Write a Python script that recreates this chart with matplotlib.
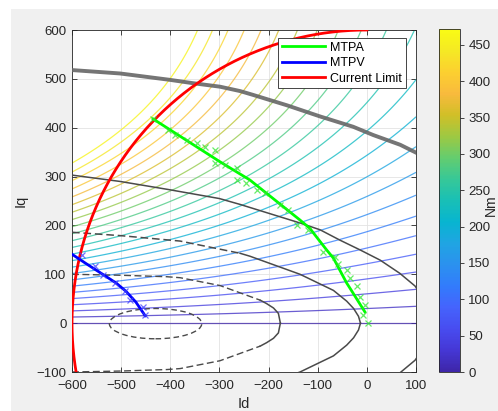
import numpy as np
import matplotlib
matplotlib.use('Agg')
import matplotlib.pyplot as plt
from matplotlib.colors import LinearSegmentedColormap, Normalize
from matplotlib.patches import Ellipse, Rectangle
from matplotlib.cm import ScalarMappable

plt.rcParams['font.family'] = ['Liberation Sans', 'DejaVu Sans']

# ---------------- data ----------------
# MTPA trajectory (line) and its computed points (x markers)
mtpa_id = [-435, -300, -238, -187, -136, -116, -82, -68, -41, -34, -4]
mtpa_iq = [418, 331, 293, 252, 211, 194, 150, 133, 82, 71, 23]
mtpa_pts_id = [-435, -404, -390, -367, -346, -329, -309, -309, -289, -265, -265, -245,
               -224, -207, -177, -160, -143, -119, -89, -65, -58, -41, -34, -21, -14, -4, -7, 2]
mtpa_pts_iq = [417, 395, 385, 375, 368, 361, 354, 328, 324, 317, 293, 286,
               273, 266, 242, 232, 201, 191, 146, 136, 122, 109, 92, 75, 54, 37, 17, 0]
# MTPV trajectory and points
mtpv_id = [-600, -570, -536, -510, -490, -470, -451]
mtpv_iq = [141, 121, 99, 82, 65, 43, 15]
mtpv_pts_id = [-580, -553, -536, -512, -492, -482, -455, -451]
mtpv_pts_iq = [140, 117, 98, 83, 66, 48, 34, 16]
# current limit radius
i_max = 600
# voltage limit curves (upper halves, symmetric about Iq = 0)
vband_id = [-600, -502, -401, -353, -299, -258, -231, -163, -95, -28, 13, 68, 100]
vband_iq = [518, 511, 498, 491, 484, 475, 467, 446, 423, 402, 385, 365, 349]
v4_id = [-600, -502, -401, -300, -258, -136, -95, -55, -14, 27, 67, 98, 130]
v4_iq = [303, 290, 273, 255, 243, 205, 191, 170, 150, 129, 102, 76, 30]
v3_id = [-600, -500, -380, -258, -238, -136, -68, -41, -27, -17, -13]
v3_iq = [186, 179, 168, 143, 137, 100, 67, 45, 30, 14, 0]
v2_id = [-600, -500, -407, -380, -299, -217, -204, -190, -180, -176]
v2_iq = [100, 98, 95, 93, 77, 47, 40, 31, 20, 0]
v1_center = (-430, -1)
v1_semi = (94, 31)
# torque map (Nm) estimated from the contours: T = f(Id) * Iq * sat(Iq)
t_f0, t_f1, t_f2 = 0.67, 0.00098, 9.4e-7
t_isat = 885.0
t_levels = np.arange(0, 461, 20)
t_max = 472

# ---------------- colormap (parula) ----------------
parula_rows = [
    (0.2422, 0.1504, 0.6603), (0.2706, 0.2147, 0.8364), (0.2813, 0.3006, 0.9414),
    (0.2699, 0.3892, 0.9906), (0.1963, 0.4847, 0.9892), (0.1687, 0.5703, 0.9359),
    (0.1248, 0.6459, 0.8883), (0.0297, 0.7082, 0.8163), (0.0964, 0.7500, 0.7120),
    (0.2161, 0.7843, 0.5923), (0.3909, 0.8029, 0.4354), (0.6174, 0.7876, 0.2612),
    (0.8203, 0.7498, 0.1535), (0.9728, 0.7298, 0.2394), (0.9892, 0.8136, 0.1885),
    (0.9597, 0.9135, 0.1423), (0.9769, 0.9839, 0.0805)]
parula = LinearSegmentedColormap.from_list('parula', parula_rows, N=256)
norm = Normalize(0, t_max)

W, H = 498, 411
fig = plt.figure(figsize=(W / 100, H / 100), dpi=100)
fig.patch.set_facecolor('white')
fig.patches.append(Rectangle((11 / W, 0), 1, 1 - 9 / H, transform=fig.transFigure,
                             facecolor='#f0f0f0', edgecolor='none', zorder=-10))

ax = fig.add_axes([72 / W, 1 - 372 / H, 344 / W, 342 / H])
ax.set_facecolor('white')

# torque contours
idg = np.linspace(-600, 100, 351)
iqg = np.linspace(-100, 600, 300)
ID, IQ = np.meshgrid(idg, iqg)
X = -ID
T = (t_f0 + t_f1 * X + t_f2 * X ** 2) * IQ / (1 + (IQ / t_isat) ** 2)
ax.contour(ID, IQ, T, levels=t_levels, cmap=parula, norm=norm,
           linewidths=0.9, alpha=0.78, zorder=2)

# voltage limit curves
gray = '#4a4a4a'
ax.plot(vband_id, vband_iq, color='#666666', lw=2.8, alpha=0.9, zorder=3)
for sgn in (1, -1):
    ax.plot(v4_id, [sgn * v for v in v4_iq], color=gray, lw=1.1, zorder=3)
    ax.plot(v3_id[3:], [sgn * v for v in v3_iq[3:]], color=gray, lw=1.1, zorder=3)
    ax.plot(v3_id[:4], [sgn * v for v in v3_iq[:4]], color=gray, lw=1.1,
            ls=(0, (5, 2.5)), zorder=3)
    ax.plot(v2_id[:6], [sgn * v for v in v2_iq[:6]], color=gray, lw=1.0,
            ls=(0, (5, 2.5)), zorder=3)
    ax.plot(v2_id[5:], [sgn * v for v in v2_iq[5:]], color=gray, lw=1.1, zorder=3)
ax.add_patch(Ellipse(v1_center, 2 * v1_semi[0], 2 * v1_semi[1], fill=False,
                     edgecolor=gray, lw=1.0, ls=(0, (4, 2.5)), zorder=3))

# current limit
th = np.linspace(np.pi / 2, np.pi + np.arcsin(100 / i_max), 300)
h_cl, = ax.plot(i_max * np.cos(th), i_max * np.sin(th), color='red', lw=2, zorder=5)

# MTPA / MTPV
l1, = ax.plot(mtpa_id, mtpa_iq, color=(0, 1, 0), lw=2, zorder=6)
ax.plot(mtpa_pts_id, mtpa_pts_iq, ls='none', marker='x', ms=5, mew=0.9,
        color=(0.2, 0.9, 0.2), alpha=0.75, zorder=6)
l2, = ax.plot(mtpv_id, mtpv_iq, color=(0, 0, 1), lw=2, zorder=6)
ax.plot(mtpv_pts_id, mtpv_pts_iq, ls='none', marker='x', ms=5, mew=0.9,
        color=(0.25, 0.25, 1.0), alpha=0.75, zorder=6)

ax.set_xlim(-600, 100)
ax.set_ylim(-100, 600)
ax.set_xticks(np.arange(-600, 101, 100))
ax.set_yticks(np.arange(-100, 601, 100))
ax.grid(True, color='#e3e3e3', lw=0.6)
ax.set_axisbelow(True)
ax.tick_params(direction='in', top=True, right=True, length=3.5, width=0.6,
               colors='#262626', labelsize=9.5)
ax.tick_params(axis='x', pad=6)
ax.tick_params(axis='y', pad=4)
for s in ax.spines.values():
    s.set_color('#262626')
    s.set_linewidth(0.6)
ax.set_xlabel('Id', fontsize=10.5, color='#262626', labelpad=3)
ax.set_ylabel('Iq', fontsize=10.5, color='#262626', labelpad=6)

leg = ax.legend([l1, l2, h_cl], ['MTPA', 'MTPV', 'Current Limit'],
                loc='upper right', bbox_to_anchor=(0.971, 0.977), borderaxespad=0,
                fontsize=9, handlelength=3.5, handletextpad=0.4, labelspacing=0.28,
                borderpad=0.3, fancybox=False, framealpha=1, edgecolor='#262626')
leg.get_frame().set_linewidth(0.6)
leg.set_zorder(10)

# colorbar
cax = fig.add_axes([439 / W, 1 - 372 / H, 21 / W, 343 / H])
cb = fig.colorbar(ScalarMappable(norm=norm, cmap=parula), cax=cax)
cb.set_ticks(np.arange(0, 451, 50))
cb.ax.tick_params(direction='out', length=3, width=0.6, colors='#262626',
                  labelsize=9.5, pad=3)
cb.outline.set_edgecolor('#262626')
cb.outline.set_linewidth(0.6)
fig.text(484 / W, 1 - 205 / H, 'Nm', rotation=90, ha='left', va='center',
         fontsize=10, color='#262626')

fig.savefig('out.png', dpi=100, facecolor=fig.get_facecolor())
